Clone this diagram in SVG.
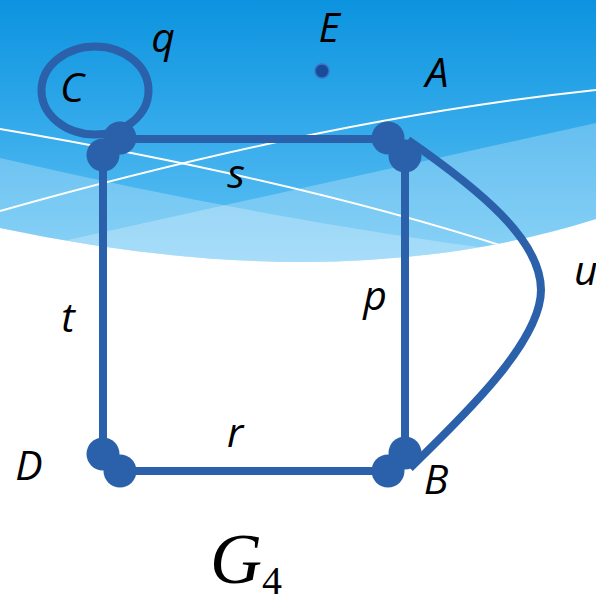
<svg xmlns="http://www.w3.org/2000/svg" width="596" height="595" viewBox="0 0 596 595">
  <defs>
    <linearGradient id="sky" x1="0" y1="0" x2="0" y2="262" gradientUnits="userSpaceOnUse">
      <stop offset="0" stop-color="#0c93df"/>
      <stop offset="0.5" stop-color="#35abeb"/>
      <stop offset="1" stop-color="#62c3f4"/>
    </linearGradient>
    <clipPath id="skyClip">
      <path d="M0,0 H596 V219 Q340,300 0,228 Z"/>
    </clipPath>
  </defs>
  <style>
    .edge { fill: none; stroke: #2b60aa; stroke-width: 8; }
    .dot { fill: #2b60aa; }
    .lbl { font-family: "Open Sans", "DejaVu Sans", sans-serif; font-style: italic; font-size: 41px; fill: #000; text-anchor: middle; }
    .wline { fill: none; stroke: #ffffff; stroke-width: 2; }
    .band { fill: #ffffff; fill-opacity: 0.25; }
  </style>

  <rect x="0" y="0" width="596" height="595" fill="#ffffff"/>

  <g id="background" clip-path="url(#skyClip)">
    <rect x="0" y="0" width="596" height="300" fill="url(#sky)"/>
    <path class="band" d="M0,158 Q320,232 600,262 L600,320 L0,320 Z"/>
    <path class="band" d="M0,255 L596,123 L596,320 L0,320 Z"/>
    <path class="wline" d="M0,129 Q300,180 512,249"/>
    <path class="wline" d="M0,211 Q330,118 596,90"/>
  </g>

  <g id="connectors">
    <ellipse class="edge" cx="95" cy="90.5" rx="53.5" ry="44" stroke-width="7"/>
    <line class="edge" x1="120" y1="139" x2="388" y2="139"/>
    <line class="edge" x1="103" y1="155" x2="103" y2="454"/>
    <line class="edge" x1="405" y1="156" x2="405" y2="452"/>
    <line class="edge" x1="120" y1="471" x2="388" y2="471"/>
    <path class="edge" d="M408,140 C480,190 541,240 541,290 C541,340 470,410 410,468"/>
    <text class="lbl" x="163" y="52">q</text>
    <text class="lbl" x="236" y="188">s</text>
    <text class="lbl" x="68" y="332">t</text>
    <text class="lbl" x="375" y="310">p</text>
    <text class="lbl" x="235" y="447">r</text>
    <text class="lbl" x="574" y="285" style="text-anchor:start">u</text>
  </g>

  <g id="node-C">
    <circle class="dot" cx="120" cy="138" r="16.5"/>
    <circle class="dot" cx="103" cy="155" r="16.5"/>
    <text class="lbl" x="72" y="102">C</text>
  </g>

  <g id="node-A">
    <circle class="dot" cx="388" cy="138" r="16.5"/>
    <circle class="dot" cx="405" cy="156" r="16.5"/>
    <text class="lbl" x="437" y="87">A</text>
  </g>

  <g id="node-D">
    <circle class="dot" cx="103" cy="454" r="16.5"/>
    <circle class="dot" cx="120" cy="471" r="16.5"/>
    <text class="lbl" x="29" y="480">D</text>
  </g>

  <g id="node-B">
    <circle class="dot" cx="405" cy="453" r="16.5"/>
    <circle class="dot" cx="388" cy="471" r="16.5"/>
    <text class="lbl" x="436" y="494">B</text>
  </g>

  <g id="node-E">
    <circle cx="322" cy="71" r="7" fill="#1a4a9a" stroke="#3a72c4" stroke-width="1.5"/>
    <text class="lbl" x="329" y="42">E</text>
  </g>

  <g id="title">
    <text x="210" y="583" font-family="Liberation Serif, serif" font-style="italic" font-size="72" fill="#000">G</text>
    <text x="262" y="594" font-family="Liberation Serif, serif" font-size="40" fill="#000">4</text>
  </g>
</svg>
